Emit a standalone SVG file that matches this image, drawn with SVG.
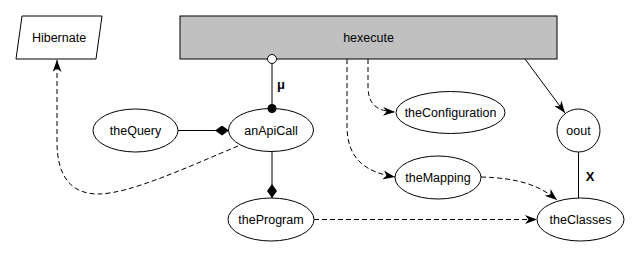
<svg xmlns="http://www.w3.org/2000/svg" width="640" height="257" viewBox="0 0 640 257">
  <style>
    .node { fill: #ffffff; stroke: #000000; stroke-width: 1; }
    .label { font-family: "Liberation Sans", Arial, sans-serif; font-size: 12.5px; fill: #000000; text-anchor: middle; dominant-baseline: central; }
    .edge { fill: none; stroke: #000000; stroke-width: 1; }
    .dashed { stroke-dasharray: 5,3; }
    .elabel { font-family: "Liberation Sans", Arial, sans-serif; font-size: 13px; font-weight: bold; fill: #000000; text-anchor: middle; dominant-baseline: central; }
  </style>
  <defs>
    <marker id="arrow" viewBox="0 0 12 9" refX="12" refY="4.5" markerWidth="12" markerHeight="9" markerUnits="userSpaceOnUse" orient="auto">
      <path d="M0,0 L12,4.5 L0,9 L3.5,4.5 z" fill="#000000"/>
    </marker>
    <marker id="diamond" viewBox="0 0 14 10" refX="14" refY="5" markerWidth="14" markerHeight="10" markerUnits="userSpaceOnUse" orient="auto">
      <path d="M0,5 L7,0 L14,5 L7,10 z" fill="#000000"/>
    </marker>
    <marker id="dot" viewBox="0 0 10 10" refX="5" refY="5" markerWidth="10" markerHeight="10" markerUnits="userSpaceOnUse" orient="auto">
      <circle cx="5" cy="5" r="4.5" fill="#000000"/>
    </marker>
    <marker id="ring" viewBox="0 0 11 11" refX="5.5" refY="5.5" markerWidth="11" markerHeight="11" markerUnits="userSpaceOnUse" orient="auto">
      <circle cx="5.5" cy="5.5" r="4.5" fill="#ffffff" stroke="#000000" stroke-width="1"/>
    </marker>
  </defs>
  <rect width="640" height="257" fill="#ffffff"/>

  <g id="Hibernate">
    <polygon class="node" points="22,16 102,16 96,59 16,59"/>
    <text class="label" x="59" y="38">Hibernate</text>
  </g>
  <g id="hexecute">
    <rect x="180" y="16" width="377" height="43" fill="#c0c0c0" stroke="#000000" stroke-width="1"/>
    <text class="label" x="368.5" y="38">hexecute</text>
  </g>
  <g id="theQuery">
    <ellipse class="node" cx="135.5" cy="130.5" rx="42.5" ry="21.5"/>
    <text class="label" x="135.5" y="131">theQuery</text>
  </g>
  <g id="anApiCall">
    <ellipse class="node" cx="271" cy="130" rx="42.5" ry="21.5"/>
    <text class="label" x="271" y="131">anApiCall</text>
  </g>
  <g id="theProgram">
    <ellipse class="node" cx="271" cy="219.5" rx="43" ry="21.5"/>
    <text class="label" x="271" y="220">theProgram</text>
  </g>
  <g id="theConfiguration">
    <ellipse class="node" cx="450.5" cy="112.5" rx="54.5" ry="21"/>
    <text class="label" x="450.5" y="113">theConfiguration</text>
  </g>
  <g id="oout">
    <circle class="node" cx="578.5" cy="130.5" r="21.5"/>
    <text class="label" x="578.5" y="131">oout</text>
  </g>
  <g id="theMapping">
    <ellipse class="node" cx="438" cy="177.5" rx="43" ry="21.5"/>
    <text class="label" x="438" y="178">theMapping</text>
  </g>
  <g id="theClasses">
    <ellipse class="node" cx="580.5" cy="219.5" rx="43.5" ry="21.5"/>
    <text class="label" x="580.5" y="220">theClasses</text>
  </g>

  <!-- edges are drawn last so their end decorations sit on top of the node outlines -->
  <g id="connectors">
    <!-- hexecute to anApiCall, open end at the box, solid dot at the ellipse -->
    <path class="edge" d="M272,59 L272,108.5" marker-start="url(#ring)" marker-end="url(#dot)"/>
    <text class="elabel" x="281" y="84">μ</text>
    <!-- composition edges -->
    <path class="edge" d="M178,130.5 L229,130.5" marker-end="url(#diamond)"/>
    <path class="edge" d="M272,152 L272,198" marker-end="url(#diamond)"/>
    <!-- hexecute to oout -->
    <path class="edge" d="M525,59 L565,113" marker-end="url(#arrow)"/>
    <!-- oout to theClasses -->
    <path class="edge" d="M578.5,152 L578.5,198"/>
    <text class="elabel" x="590" y="176">X</text>
    <!-- dashed dependencies -->
    <path class="edge dashed" d="M368,59 L368,86 C368,102 374,111 395,112" marker-end="url(#arrow)"/>
    <path class="edge dashed" d="M347,59 L347,128 C348,160 366,172 395,177" marker-end="url(#arrow)"/>
    <path class="edge dashed" d="M481,177 C520,178 540,186 557,200" marker-end="url(#arrow)"/>
    <path class="edge dashed" d="M314,219.5 L537,219.5" marker-end="url(#arrow)"/>
    <path class="edge dashed" d="M238,146 C190,166 130,194 98,194 C70,194 57,175 57,142 L57,60" marker-end="url(#arrow)"/>
  </g>
</svg>
